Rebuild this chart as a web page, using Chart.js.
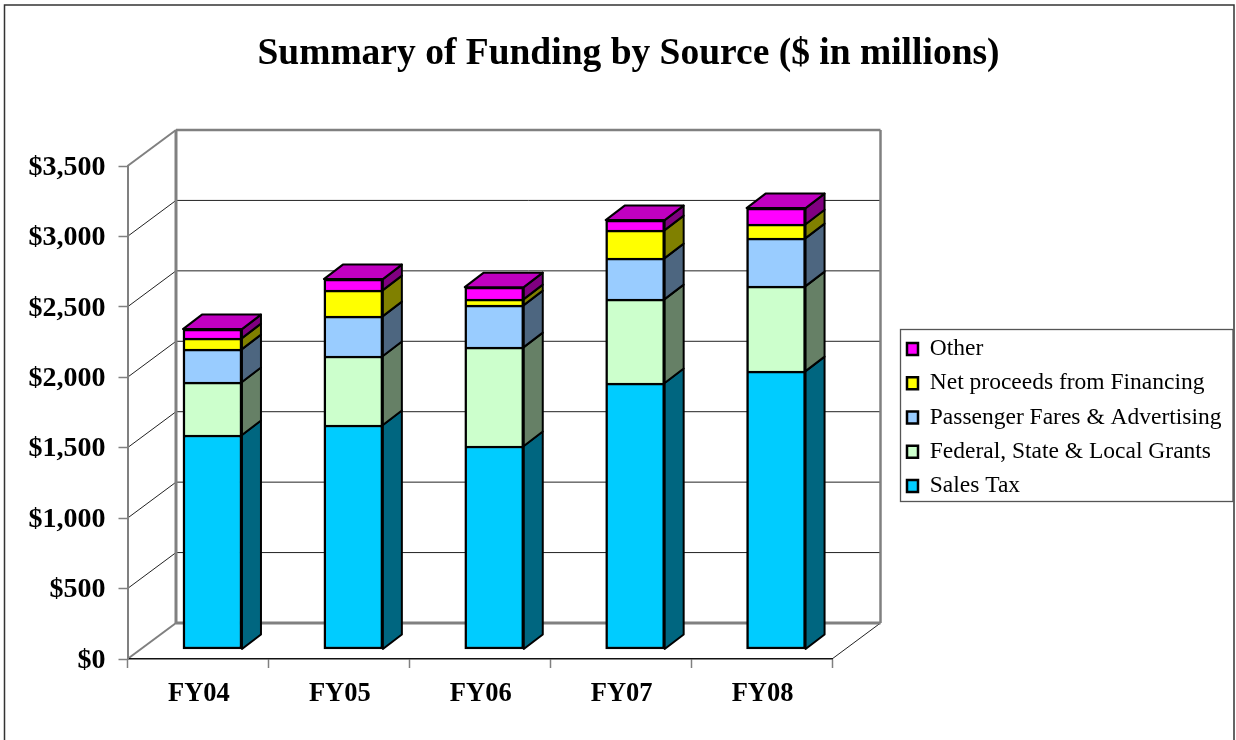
<!DOCTYPE html>
<html>
<head>
<meta charset="utf-8">
<title>Summary of Funding by Source</title>
<script src="https://cdn.jsdelivr.net/npm/chart.js@4"></script>
<style>
    body { margin: 0; background: #fff; }
    canvas { display: block; }
</style>
</head>
<body>
<canvas id="myChart" width="1236" height="740"></canvas>
<script>
const categories = ["FY04", "FY05", "FY06", "FY07", "FY08"];
const salesTax = [1519, 1590, 1441, 1888, 1973];
const grants = [376, 490, 702, 596, 603];
const fares = [234, 283, 298, 291, 341];
const financing = [78, 185, 43, 199, 99];
const other = [64, 78, 85, 71, 114];

const FONT = "'Liberation Serif', serif";
const GRAY = "#808080";

// 3d look: how far the wall and the bar sides are pushed back
const WALL_DX = 48.5, WALL_DY = -36;
const SIDE_DX = 19, SIDE_DY = -14.5;

function series(label, values, color, side, skip) {
    return {
        label: label,
        data: values.map((v, i) => ({ x: i, y: v })),
        backgroundColor: color,
        sideColor: side,
        borderColor: "#000",
        borderWidth: 2.5,
        borderSkipped: skip,
        barThickness: 59,
        xAxisID: "xb",
        yAxisID: "yb"
    };
}

function line(ctx, x1, y1, x2, y2, color, width) {
    ctx.strokeStyle = color;
    ctx.lineWidth = width;
    ctx.beginPath();
    ctx.moveTo(x1, y1);
    ctx.lineTo(x2, y2);
    ctx.stroke();
}

function poly(ctx, pts, fill) {
    ctx.fillStyle = fill;
    ctx.strokeStyle = "#000";
    ctx.lineWidth = 2;
    ctx.lineJoin = "round";
    ctx.beginPath();
    pts.forEach((p, i) => i ? ctx.lineTo(p[0], p[1]) : ctx.moveTo(p[0], p[1]));
    ctx.closePath();
    ctx.fill();
    ctx.stroke();
}

const backdrop = {
    id: "backdrop",
    afterLayout(chart) {
        // the legend sits in its own box to the right of the plot
        chart.legend.left = 896.25;
        chart.legend.top = 326.5;
        chart.legend.right = 1233;
        chart.legend.bottom = 520;
        // title is centred over plot and legend together
        chart.titleBlock.left = 21;
        chart.titleBlock.right = 1236;
    },
    beforeDraw(chart) {
        const ctx = chart.ctx;
        const a = chart.chartArea;
        const y = chart.scales.y;
        ctx.save();
        ctx.fillStyle = "#fff";
        ctx.fillRect(0, 0, chart.width, chart.height);

        // page frame, runs off the bottom
        ctx.strokeStyle = "#333";
        ctx.lineWidth = 1.5;
        ctx.strokeRect(4.5, 5, 1229.5, 760);

        // legend box
        ctx.strokeStyle = "#555";
        ctx.lineWidth = 1.3;
        ctx.strokeRect(900.5, 329.5, 332.5, 172);

        // gridlines on back and side wall
        y.ticks.forEach(t => {
            const py = y.getPixelForValue(t.value);
            if (t.value > 0 && t.value < 3500) {
                line(ctx, a.left + WALL_DX, py + WALL_DY, a.right + WALL_DX, py + WALL_DY, "#222", 1);
                line(ctx, a.left, py, a.left + WALL_DX, py + WALL_DY, "#222", 1);
            }
        });

        const bx = a.left + WALL_DX, tx = a.right + WALL_DX;
        const ty = a.top + WALL_DY, by = a.bottom + WALL_DY;
        line(ctx, a.left, a.top, bx, ty, GRAY, 2);
        line(ctx, a.left, a.bottom, bx, by, GRAY, 2);
        line(ctx, a.right, a.bottom, tx, by, "#222", 1);
        line(ctx, bx, ty, tx, ty, GRAY, 2.5);
        line(ctx, bx, ty, bx, by, GRAY, 3);
        line(ctx, bx, by, tx, by, GRAY, 3);
        line(ctx, tx, ty, tx, by, GRAY, 2.5);
        ctx.restore();
    },
    afterDatasetsDraw(chart) {
        const ctx = chart.ctx;
        ctx.save();
        const last = chart.data.datasets.length - 1;
        chart.data.datasets.forEach((ds, d) => {
            chart.getDatasetMeta(d).data.forEach(bar => {
                const r = bar.x + bar.width / 2;
                const l = bar.x - bar.width / 2;
                poly(ctx, [
                    [r, bar.y], [r + SIDE_DX, bar.y + SIDE_DY],
                    [r + SIDE_DX, bar.base + SIDE_DY], [r, bar.base]
                ], ds.sideColor);
                if (d === last) {
                    poly(ctx, [
                        [l, bar.y], [l + SIDE_DX, bar.y + SIDE_DY],
                        [r + SIDE_DX, bar.y + SIDE_DY], [r, bar.y]
                    ], "#C000C0");
                }
            });
        });
        ctx.restore();
    }
};

new Chart("myChart", {
    type: "bar",
    data: {
        labels: categories,
        datasets: [
            series("Sales Tax", salesTax, "#00CCFF", "#006680", false),
            series("Federal, State & Local Grants", grants, "#CCFFCC", "#668066", "start"),
            series("Passenger Fares & Advertising", fares, "#99CCFF", "#4D6680", "start"),
            series("Net proceeds from Financing", financing, "#FFFF00", "#808000", "start"),
            series("Other", other, "#FF00FF", "#800080", "start")
        ]
    },
    plugins: [backdrop],
    options: {
        responsive: false,
        animation: false,
        layout: { padding: { left: 21, right: 404, top: 0, bottom: 0 } },
        plugins: {
            tooltip: { enabled: false },
            title: {
                display: true,
                text: "Summary of Funding by Source ($ in millions)",
                color: "#000",
                font: { family: FONT, size: 37.5, weight: "bold" },
                padding: { top: 32, bottom: 89 }
            },
            legend: {
                position: "chartArea",
                align: "start",
                reverse: true,
                labels: {
                    color: "#000",
                    boxWidth: 11,
                    boxHeight: 12,
                    padding: 10.75,
                    font: { family: FONT, size: 23.5 }
                }
            }
        },
        scales: {
            x: {
                offset: true,
                afterFit: s => { s.height = 81; },
                border: { color: "#111", width: 1.5 },
                grid: { offset: true, drawOnChartArea: false, tickLength: 9, tickColor: GRAY, tickWidth: 1.5 },
                ticks: { color: "#000", padding: 10, labelOffset: 1, maxRotation: 0, font: { family: FONT, size: 26.5, weight: "bold" } }
            },
            y: {
                min: 0,
                max: 3500,
                afterFit: s => { s.width = 106.5; },
                border: { color: GRAY, width: 2 },
                grid: { drawOnChartArea: false, tickLength: 9, tickColor: GRAY, tickWidth: 1.5 },
                ticks: {
                    stepSize: 500,
                    color: "#000",
                    padding: 13,
                    labelOffset: 1.5,
                    font: { family: FONT, size: 28, weight: "bold" },
                    callback: v => "$" + v.toLocaleString("en-US")
                }
            },
            // bars stand in the middle of the floor, so they get their own hidden axes
            xb: { type: "linear", axis: "x", display: false, stacked: true, offset: false, min: -0.603, max: 4.397 },
            yb: { type: "linear", axis: "y", display: false, stacked: true, min: -71, max: 3429 }
        }
    }
});
</script>
</body>
</html>
